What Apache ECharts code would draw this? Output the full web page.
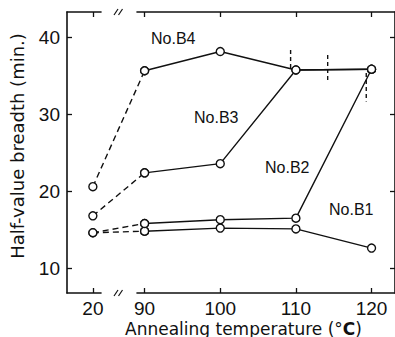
<!DOCTYPE html>
<html>
<head>
<meta charset="utf-8">
<script src="https://cdn.jsdelivr.net/npm/echarts@6/dist/echarts.min.js"></script>
<style>
html,body{margin:0;padding:0;background:#fff;}
#c{width:395px;height:337px;}
</style>
</head>
<body>
<div id="c"></div>
<script>
// ---- data ----
var temps = [20, 90, 100, 110, 120];            // annealing temperature (°C)
var yTicks = [10, 20, 30, 40];
var seriesNames = ['No.B1', 'No.B2', 'No.B3', 'No.B4'];
var b1 = [14.6, 14.8, 15.2, 15.1, 12.6];
var b2 = [14.6, 15.8, 16.3, 16.5, 35.9];
var b3 = [16.8, 22.4, 23.6, 35.8, 35.9];
var b4 = [20.6, 35.7, 38.2, 35.8, 35.9];
// short vertical dashed markers: [x, yTop, yBottom]
var markers = [[109.3, 38.4, 35.8], [114.2, 37.75, 34.3], [119.3, 35.4, 31.7]];

var values = [b1, b2, b3, b4];
var FONT = 'Liberation Sans';
var LW = 1.4;

var series = [];
values.forEach(function (vals, i) {
  // dashed part: 20 -> 90
  series.push({
    type: 'line', name: seriesNames[i] + '-dash', xAxisIndex: 0, yAxisIndex: 0,
    data: [[temps[0], vals[0]], [temps[1], vals[1]]],
    symbol: 'circle', symbolSize: 8,
    itemStyle: { color: '#fff', borderColor: '#111', borderWidth: LW },
    lineStyle: { color: '#111', width: LW, type: [6, 4] },
    silent: true, animation: false, z: 2
  });
  // solid part: 90 -> 120
  var solid = [];
  for (var k = 1; k < temps.length; k++) solid.push([temps[k], vals[k]]);
  series.push({
    type: 'line', name: seriesNames[i], xAxisIndex: 0, yAxisIndex: 0,
    data: solid,
    symbol: 'circle', symbolSize: 8,
    itemStyle: { color: '#fff', borderColor: '#111', borderWidth: LW },
    lineStyle: { color: '#111', width: LW, type: 'solid' },
    silent: true, animation: false, z: 3
  });
});
markers.forEach(function (m) {
  series.push({
    type: 'line', xAxisIndex: 0, yAxisIndex: 0,
    data: [[m[0], m[1]], [m[0], m[2]]],
    symbol: 'none',
    lineStyle: { color: '#111', width: LW, type: [4, 3] },
    silent: true, animation: false, z: 1
  });
});

var xBase = {
  type: 'value', min: 16.58, max: 123.1,
  breaks: [{ start: 21, end: 89, gap: 4.84 }],
  breakArea: { show: false },
  axisLine: { show: true, lineStyle: { color: '#111', width: 1.6 } },
  axisTick: { show: true, inside: true, length: 5, customValues: temps, lineStyle: { color: '#111', width: 1.3 } },
  splitLine: { show: false }
};
var yBase = {
  type: 'value', min: 6.75, max: 43.35,
  axisLine: { show: true, lineStyle: { color: '#111', width: 1.6 } },
  axisTick: { show: true, inside: true, length: 5, customValues: yTicks, lineStyle: { color: '#111', width: 1.3 } },
  splitLine: { show: false }
};

var labelPos = [[329, 210], [265, 168], [194, 118], [151, 39]];
var graphics = [];
seriesNames.forEach(function (n, i) {
  graphics.push({
    type: 'text', left: labelPos[i][0], top: labelPos[i][1] - 9,
    style: { text: n, font: '16px "' + FONT + '"', fill: '#111' }, z: 100
  });
});
// axis break marks (top and bottom)
[12, 293].forEach(function (y) {
  graphics.push({ type: 'rect', shape: { x: 115, y: y - 3, width: 8, height: 6 }, style: { fill: '#fff' }, z: 100 });
  graphics.push({ type: 'line', shape: { x1: 114, y1: y + 3, x2: 118, y2: y - 3 }, style: { stroke: '#111', lineWidth: 1.2 }, z: 101 });
  graphics.push({ type: 'line', shape: { x1: 118.5, y1: y + 3, x2: 122.5, y2: y - 3 }, style: { stroke: '#111', lineWidth: 1.2 }, z: 101 });
});
// axis titles
graphics.push({
  type: 'text', left: 125, top: 320,
  style: {
    text: 'Annealing temperature (°{b|C})',
    font: '17px "DejaVu Sans"', fill: '#111',
    rich: { b: { fontFamily: 'DejaVu Sans', fontSize: 17, fontWeight: 'bold', fill: '#111' } }
  }, z: 100
});
graphics.push({
  type: 'text', x: 17, y: 146, rotation: Math.PI / 2,
  style: { text: 'Half-value breadth (min.)', font: '18px "DejaVu Sans"', fill: '#111', align: 'center', verticalAlign: 'middle' },
  z: 100
});

var chart = echarts.init(document.getElementById('c'), null, { renderer: 'svg' });
chart.setOption({
  animation: false,
  backgroundColor: '#fff',
  grid: { left: 67, top: 12, right: -2, bottom: 44, containLabel: false },
  xAxis: [
    Object.assign({}, xBase, { position: 'bottom',
      axisLabel: { show: true, customValues: temps, margin: 6, color: '#111', fontSize: 19, fontFamily: FONT } }),
    Object.assign({}, xBase, { position: 'top', axisLabel: { show: false } })
  ],
  yAxis: [
    Object.assign({}, yBase, { position: 'left',
      axisLabel: { show: true, customValues: yTicks, margin: 7, color: '#111', fontSize: 19, fontFamily: FONT } }),
    Object.assign({}, yBase, { position: 'right', axisLabel: { show: false } })
  ],
  series: series,
  graphic: graphics
});
</script>
</body>
</html>
